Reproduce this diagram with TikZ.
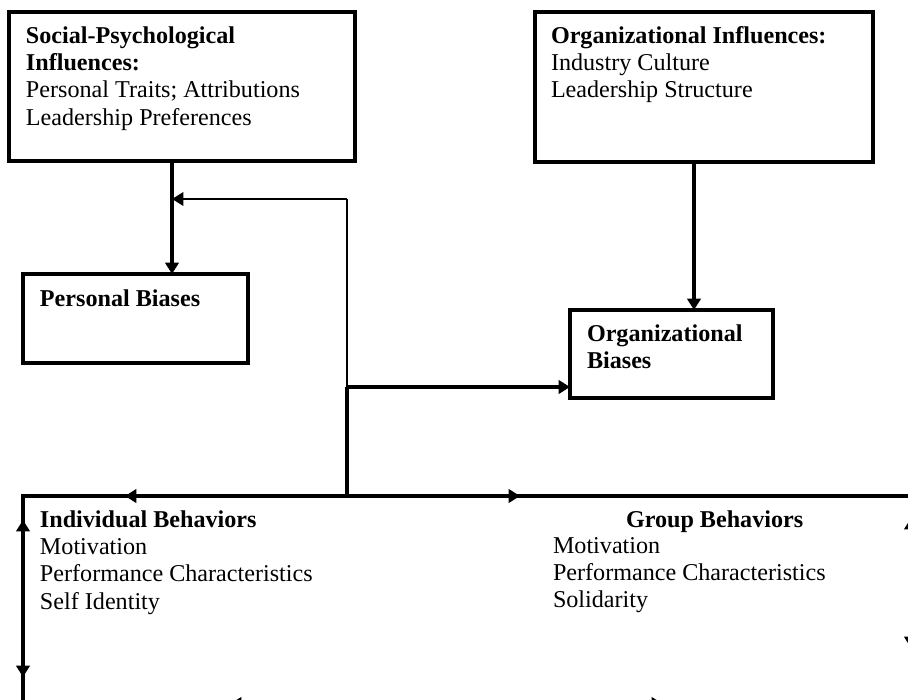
\documentclass[tikz,border=0pt]{standalone}
\usepackage{fontspec}
\setmainfont{Liberation Serif}
\usetikzlibrary{arrows.meta}
\begin{document}
\begin{tikzpicture}[x=0.75pt,y=-0.75pt,
  box/.style={draw=black,line width=2.3pt,rectangle,inner sep=0pt,outer sep=0pt,anchor=north west},
  txt/.style={inner sep=0pt,outer sep=0pt,anchor=base west,font=\fontsize{18.1}{20.5}\selectfont},
  conn/.style={line width=2.3pt},
  thinconn/.style={line width=1.7pt},
  arr/.style={conn,-{Triangle[length=8.5pt,width=10pt]}},
  thinarr/.style={thinconn,-{Triangle[length=8.5pt,width=10pt]}}]
\useasboundingbox (0,0) rectangle (908,700);
\clip (0,0) rectangle (908,700);
% boxes
\node[box,minimum width=259.5pt,minimum height=111.75pt] (sp) at (9,12) {};
\node[box,minimum width=253.5pt,minimum height=112.5pt] (oi) at (535,12) {};
\node[box,minimum width=168.75pt,minimum height=66.75pt] (pb) at (23,274) {};
\node[box,minimum width=152.25pt,minimum height=66pt] (ob) at (570,310) {};
\node[box,minimum width=666pt,minimum height=156pt] (bb) at (23,496) {};
% texts
\node[txt] (sptext) at (26,43) {\begin{tabular}[t]{@{}l@{}}\textbf{Social-Psychological}\\ \textbf{Influences:}\\ Personal Traits; Attributions\\ Leadership Preferences\end{tabular}};
\node[txt] (oitext) at (551,43) {\begin{tabular}[t]{@{}l@{}}\textbf{Organizational Influences:}\\ Industry Culture\\ Leadership Structure\end{tabular}};
\node[txt] (pbtext) at (40,306) {\textbf{Personal Biases}};
\node[txt] (obtext) at (587,341) {\begin{tabular}[t]{@{}l@{}}\textbf{Organizational}\\ \textbf{Biases}\end{tabular}};
\node[txt] (indtext) at (40,527) {\begin{tabular}[t]{@{}l@{}}\textbf{Individual Behaviors}\\ Motivation\\ Performance Characteristics\\ Self Identity\end{tabular}};
\node[txt] (grptitle) at (626,527) {\textbf{Group Behaviors}};
\node[txt] (grptext) at (553,553) {\begin{tabular}[t]{@{}l@{}}Motivation\\ Performance Characteristics\\ Solidarity\end{tabular}};
% helper coordinates
\coordinate (c1) at (172,0);
\coordinate (c2) at (694,0);
\coordinate (j1) at (347,387);
\coordinate (j2) at (347,199);
\coordinate (j3) at (172,199);
\coordinate (t1) at (125,496);
\coordinate (t2) at (520,496);
\coordinate (lm) at (23,600);
\coordinate (lu) at (23,520);
\coordinate (ld) at (23,677);
\coordinate (rm) at (911,583);
\coordinate (ru) at (911,518);
\coordinate (rd) at (911,648);
\coordinate (bm) at (446,704);
\coordinate (bl) at (230,704);
\coordinate (br) at (663,704);
% connectors
\draw[arr] (sp.south -| c1) -- (pb.north -| c1);
\draw[arr] (oi.south -| c2) -- (ob.north -| c2);
\draw[conn] (bb.north -| j1) -- (j1);
\draw[arr] (j1) -- (ob.west |- j1);
\draw[thinconn] (j1) -- (j2);
\draw[thinarr] (j2) -- (j3);
\draw[arr] (bb.north -| j1) -- (t1);
\draw[arr] (bb.north -| j1) -- (t2);
\draw[arr] (lm) -- (lu);
\draw[arr] (lm) -- (ld);
\draw[arr] (rm) -- (ru);
\draw[arr] (rm) -- (rd);
\draw[arr] (bm) -- (bl);
\draw[arr] (bm) -- (br);
\end{tikzpicture}
\end{document}
